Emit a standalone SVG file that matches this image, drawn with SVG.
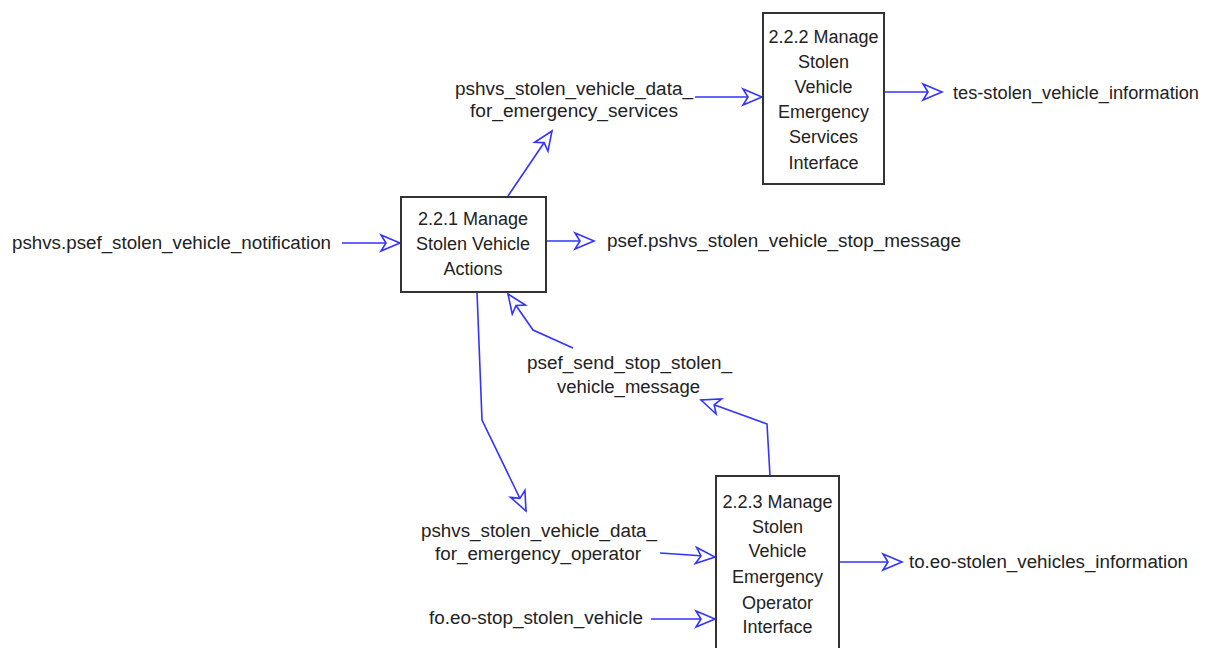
<svg xmlns="http://www.w3.org/2000/svg" width="1208" height="648" viewBox="0 0 1208 648">
<style>
.box{fill:#fff;stroke:#333;stroke-width:2}
.bt{font-family:"Liberation Sans",Arial,sans-serif;font-size:18px;fill:#222;text-anchor:middle}
.lb{font-family:"Liberation Sans",Arial,sans-serif;font-size:18px;fill:#222}
.c{fill:none;stroke:#3333ff;stroke-width:1.6;marker-end:url(#ah)}
</style>
<defs>
<marker id="ah" markerUnits="userSpaceOnUse" orient="auto" refX="0" refY="0" markerWidth="24" markerHeight="24" overflow="visible">
<path d="M-19,-8 L0,0 L-19,8 L-14,0 Z" fill="#fff" stroke="#3333ff" stroke-width="1.6" stroke-linejoin="miter"/>
</marker>
</defs>
<rect width="1208" height="648" fill="#fff"/>
<g id="connectors">
<polyline class="c" points="508,196 552,131"/>
<polyline class="c" points="695,97 762,97"/>
<polyline class="c" points="885,92 942,92"/>
<polyline class="c" points="342,243 400,243"/>
<polyline class="c" points="547,241 594,241"/>
<polyline class="c" points="477,292 482,420 526,511"/>
<polyline class="c" points="573,348 533,330 508,294"/>
<polyline class="c" points="770,476 767,424 701,400"/>
<polyline class="c" points="660,553 690,555 715,557"/>
<polyline class="c" points="651,619 715,619"/>
<polyline class="c" points="839,562 902,562"/>
</g>
<g id="n221">
<rect class="box" x="401" y="197" width="145" height="95"/>
<text class="bt" x="473" y="225">2.2.1 Manage</text>
<text class="bt" x="473" y="250">Stolen Vehicle</text>
<text class="bt" x="473" y="275">Actions</text>
</g>
<g id="n222">
<rect class="box" x="763" y="13" width="121" height="171"/>
<text class="bt" x="823.5" y="43">2.2.2 Manage</text>
<text class="bt" x="823.5" y="68">Stolen</text>
<text class="bt" x="823.5" y="93">Vehicle</text>
<text class="bt" x="823.5" y="118">Emergency</text>
<text class="bt" x="823.5" y="143">Services</text>
<text class="bt" x="823.5" y="169">Interface</text>
</g>
<g id="n223">
<rect class="box" x="716" y="476" width="123" height="190"/>
<text class="bt" x="777.5" y="508">2.2.3 Manage</text>
<text class="bt" x="777.5" y="533">Stolen</text>
<text class="bt" x="777.5" y="557">Vehicle</text>
<text class="bt" x="777.5" y="583">Emergency</text>
<text class="bt" x="777.5" y="609">Operator</text>
<text class="bt" x="777.5" y="633">Interface</text>
</g>
<g id="labels">
<text class="lb" x="12" y="249" textLength="319" lengthAdjust="spacingAndGlyphs">pshvs.psef_stolen_vehicle_notification</text>
<text class="lb" x="607" y="247" textLength="354" lengthAdjust="spacingAndGlyphs">psef.pshvs_stolen_vehicle_stop_message</text>
<text class="lb" x="455" y="95" textLength="238" lengthAdjust="spacingAndGlyphs">pshvs_stolen_vehicle_data_</text>
<text class="lb" x="470" y="117" textLength="208" lengthAdjust="spacingAndGlyphs">for_emergency_services</text>
<text class="lb" x="953" y="99" textLength="246" lengthAdjust="spacingAndGlyphs">tes-stolen_vehicle_information</text>
<text class="lb" x="527" y="369" textLength="205" lengthAdjust="spacingAndGlyphs">psef_send_stop_stolen_</text>
<text class="lb" x="557" y="393" textLength="143" lengthAdjust="spacingAndGlyphs">vehicle_message</text>
<text class="lb" x="421" y="537" textLength="236" lengthAdjust="spacingAndGlyphs">pshvs_stolen_vehicle_data_</text>
<text class="lb" x="435" y="560" textLength="206" lengthAdjust="spacingAndGlyphs">for_emergency_operator</text>
<text class="lb" x="429" y="624" textLength="214" lengthAdjust="spacingAndGlyphs">fo.eo-stop_stolen_vehicle</text>
<text class="lb" x="909" y="568" textLength="279" lengthAdjust="spacingAndGlyphs">to.eo-stolen_vehicles_information</text>
</g>
</svg>
